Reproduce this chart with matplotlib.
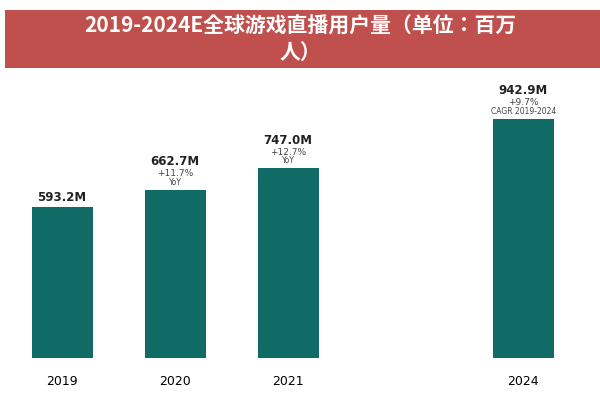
import matplotlib.pyplot as plt
from matplotlib.patches import Rectangle

years = ['2019', '2020', '2021', '2024']
users = [593.2, 662.7, 747.0, 942.9]
value_labels = ['593.2M', '662.7M', '747.0M', '942.9M']
growth_labels = ['', '+11.7%', '+12.7%', '+9.7%']
growth_notes = ['', 'YoY', 'YoY', 'CAGR 2019-2024']
xpos = [0, 1, 2, 4.08]

cjk = ['Noto Sans CJK SC', 'Noto Sans CJK JP', 'DejaVu Sans']
plt.rcParams['font.family'] = ['DejaVu Sans', 'Noto Sans CJK SC', 'Noto Sans CJK JP']
fig = plt.figure(figsize=(6, 4), dpi=100)

# title band
fig.patches.append(Rectangle((0.008, 0.83), 0.992, 0.145, transform=fig.transFigure,
                             facecolor='#c0504d', edgecolor='none'))
fig.text(0.5, 0.935, '2019-2024E全球游戏直播用户量（单位：百万', ha='center', va='center',
         color='white', fontsize=15, fontweight='bold', family=cjk)
fig.text(0.5, 0.87, '人）', ha='center', va='center',
         color='white', fontsize=15, fontweight='bold', family=cjk)

ax = fig.add_axes([0.0, 0.105, 1.0, 0.695])
ax.bar(xpos, users, width=0.54, color='#106b66')
for x, v, lab, g, n in zip(xpos, users, value_labels, growth_labels, growth_notes):
    if g:
        ax.text(x, v + 12, n, ha='center', va='bottom', fontsize=5.5, color='#444444')
        ax.text(x, v + 45, g, ha='center', va='bottom', fontsize=6.5, color='#444444')
        ax.text(x, v + 85, lab, ha='center', va='bottom', fontsize=8.5, fontweight='bold', color='#222222')
    else:
        ax.text(x, v + 12, lab, ha='center', va='bottom', fontsize=8.5, fontweight='bold', color='#222222')

ax.set_xticks(xpos)
ax.set_xticklabels(years, fontsize=9)
ax.tick_params(axis='x', length=0, pad=12)
ax.set_yticks([])
ax.set_xlim(-0.549, 4.76)
ax.set_ylim(0, 1095)
for s in ax.spines.values():
    s.set_visible(False)

fig.savefig('out.png', dpi=100)
